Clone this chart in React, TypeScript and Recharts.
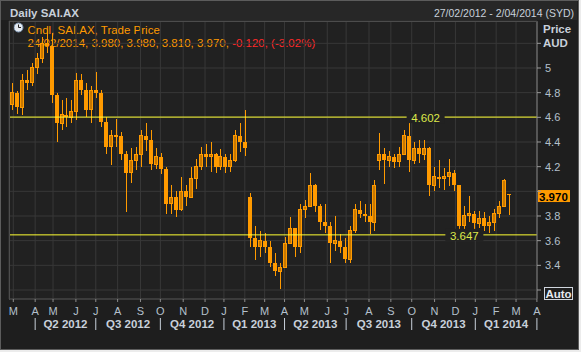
import React from 'react';
import { ComposedChart, Bar, XAxis, YAxis, CartesianGrid, ReferenceLine, ReferenceDot } from 'recharts';

const ORANGE = '#ff9a00';
const LINE_YELLOW = '#ffff33';
const LABEL_YELLOW = '#dde84a';
const PLOT_BG = '#212121';
const GRID = '#383838';
const AXIS_TEXT = '#b4c0cc';
const HEAD_TEXT = '#c8d0da';
const FONT = '"Liberation Sans", Arial, sans-serif';

// x axis is counted in trading days, 27/02/2012 = day 0
const monthStarts = [3, 25, 43, 66, 86, 108, 131, 151, 174, 196, 215, 236, 256, 276, 296, 319, 338, 361, 383, 404, 427, 448, 468, 489, 509, 530];
const monthLetters = ['M', 'A', 'M', 'J', 'J', 'A', 'S', 'O', 'N', 'D', 'J', 'F', 'M', 'A', 'M', 'J', 'J', 'A', 'S', 'O', 'N', 'D', 'J', 'F', 'M', 'A'];
const quarterStarts = [25, 86, 151, 215, 276, 338, 404, 468, 530];
const quarterNames = ['Q2 2012', 'Q3 2012', 'Q4 2012', 'Q1 2013', 'Q2 2013', 'Q3 2013', 'Q4 2013', 'Q1 2014'];
const priceTicks = [3.2, 3.4, 3.6, 3.8, 4, 4.2, 4.4, 4.6, 4.8, 5, 5.2];

// one candle per 5 trading days
const opens = [
  4.70, 4.80, 4.68, 4.90, 4.88, 5.00, 5.08, 5.20, 5.18, 4.78,
  4.55, 4.62, 4.60, 4.65, 4.90, 4.82, 4.66, 4.82, 4.80, 4.56,
  4.36, 4.45, 4.45, 4.30, 4.15, 4.25, 4.30, 4.45, 4.42, 4.22,
  4.28, 4.18, 3.90, 3.95, 3.85, 4.00, 3.95, 4.10, 4.20, 4.30,
  4.28, 4.30, 4.20, 4.28, 4.20, 4.25, 4.45, 4.40, 3.95, 3.62,
  3.55, 3.60, 3.55, 3.42, 3.35, 3.38, 3.58, 3.70, 3.55, 3.85,
  3.88, 4.05, 3.88, 3.75, 3.72, 3.58, 3.60, 3.55, 3.45, 3.68,
  3.85, 3.82, 3.80, 3.75, 4.25, 4.30, 4.25, 4.28, 4.24, 4.30,
  4.45, 4.25, 4.35, 4.30, 4.35, 4.05, 4.12, 4.10, 4.12, 4.15,
  4.05, 3.72, 3.80, 3.82, 3.74, 3.78, 3.72, 3.75, 3.82, 3.88,
  3.98,
];
const highs = [
  4.88, 4.81, 4.95, 4.98, 5.04, 5.12, 5.25, 5.31, 5.28, 4.80,
  4.74, 4.76, 4.74, 4.96, 4.95, 4.88, 4.85, 4.97, 4.82, 4.60,
  4.50, 4.59, 4.48, 4.33, 4.35, 4.36, 4.50, 4.55, 4.50, 4.35,
  4.31, 4.20, 4.05, 4.00, 4.12, 4.05, 4.20, 4.26, 4.36, 4.38,
  4.40, 4.31, 4.34, 4.30, 4.30, 4.50, 4.55, 4.66, 3.99, 3.72,
  3.68, 3.66, 3.60, 3.50, 3.42, 3.63, 3.79, 3.70, 3.90, 3.93,
  4.15, 4.06, 3.90, 3.90, 3.75, 3.80, 3.65, 3.62, 3.72, 3.90,
  3.92, 3.90, 3.90, 4.09, 4.47, 4.35, 4.33, 4.30, 4.36, 4.50,
  4.602, 4.40, 4.42, 4.42, 4.36, 4.20, 4.25, 4.19, 4.26, 4.17,
  4.05, 3.88, 3.96, 3.84, 3.84, 3.83, 3.80, 3.86, 3.92, 4.10,
  3.98,
];
const lows = [
  4.66, 4.63, 4.62, 4.82, 4.85, 4.95, 5.04, 5.12, 4.72, 4.40,
  4.50, 4.52, 4.55, 4.58, 4.78, 4.60, 4.55, 4.76, 4.52, 4.30,
  4.21, 4.36, 4.25, 3.83, 4.07, 4.17, 4.20, 4.33, 4.17, 4.18,
  4.14, 3.82, 3.82, 3.79, 3.84, 3.88, 3.95, 4.02, 4.17, 4.20,
  4.16, 4.15, 4.17, 4.15, 4.16, 4.24, 4.32, 4.29, 3.55, 3.44,
  3.47, 3.50, 3.39, 3.31, 3.21, 3.38, 3.58, 3.47, 3.50, 3.78,
  3.87, 3.83, 3.69, 3.66, 3.42, 3.52, 3.50, 3.42, 3.42, 3.66,
  3.78, 3.75, 3.65, 3.68, 4.17, 4.06, 4.20, 4.19, 4.20, 4.30,
  4.16, 4.22, 4.23, 4.25, 3.96, 4.00, 4.03, 4.01, 4.04, 4.00,
  3.647, 3.67, 3.75, 3.69, 3.70, 3.68, 3.66, 3.68, 3.78, 3.88,
  3.81,
];
const closes = [
  4.80, 4.68, 4.90, 4.88, 5.00, 5.08, 5.20, 5.18, 4.78, 4.55,
  4.62, 4.60, 4.65, 4.90, 4.82, 4.66, 4.82, 4.80, 4.56, 4.36,
  4.45, 4.45, 4.30, 4.15, 4.25, 4.30, 4.45, 4.42, 4.22, 4.28,
  4.18, 3.90, 3.95, 3.85, 4.00, 3.95, 4.10, 4.20, 4.30, 4.28,
  4.30, 4.20, 4.28, 4.20, 4.25, 4.45, 4.40, 4.35, 3.62, 3.55,
  3.60, 3.55, 3.42, 3.35, 3.38, 3.58, 3.70, 3.55, 3.85, 3.88,
  4.05, 3.88, 3.75, 3.72, 3.58, 3.60, 3.55, 3.45, 3.68, 3.85,
  3.82, 3.80, 3.75, 4.05, 4.30, 4.25, 4.28, 4.24, 4.30, 4.45,
  4.25, 4.35, 4.30, 4.35, 4.05, 4.12, 4.10, 4.12, 4.15, 4.05,
  3.72, 3.80, 3.82, 3.74, 3.78, 3.72, 3.75, 3.82, 3.88, 4.09,
  3.97,
];

const levels = [4.602, 3.647];
const levelLabelDay = [418, 457];
const lastDate = '24/02/2014';
const lastChange = '-0.120, (-3.02%)';

const candles = opens.map((open, k) => ({
  day: k * 5 + 2,
  open,
  high: highs[k],
  low: lows[k],
  close: closes[k],
}));
const last = candles[candles.length - 1];

const quarterMids = quarterNames.map((_, j) => (quarterStarts[j] + quarterStarts[j + 1]) / 2);
const quarterAxisTicks = [...quarterStarts, ...quarterMids];

const Candle = (props: any) => {
  const { x, y, width, height, payload } = props;
  if (x == null || y == null || !payload) return null;
  const top = Math.min(y, y + height);
  const h = Math.abs(height);
  const { open, high, low, close } = payload;
  const span = high - low || 1;
  const py = (v: number) => top + ((high - v) / span) * h;
  const left = Math.round(x);
  const w = Math.max(Math.round(width), 1);
  const cx = left + Math.floor(w / 2) + 0.5;
  const bTop = py(Math.max(open, close));
  const bBot = py(Math.min(open, close));
  const up = close >= open;
  return (
    <g shapeRendering="crispEdges">
      <line x1={cx} x2={cx} y1={top} y2={top + h} stroke={ORANGE} strokeWidth={1} />
      {up ? (
        <rect x={left + 0.5} y={bTop} width={w - 1} height={Math.max(bBot - bTop, 1)} fill="#c87800" stroke={ORANGE} strokeWidth={1} />
      ) : (
        <rect x={left} y={bTop} width={w} height={Math.max(bBot - bTop, 1)} fill={ORANGE} />
      )}
    </g>
  );
};

const MonthTick = ({ x, y, payload }: any) => (
  <text x={x} y={y + 10.5} textAnchor="middle" fill={AXIS_TEXT} fontSize={11} fontFamily={FONT}>
    {monthLetters[monthStarts.indexOf(payload.value)]}
  </text>
);

const QuarterTick = ({ x, y, payload }: any) => {
  const j = quarterMids.indexOf(payload.value);
  if (j < 0) {
    return <line x1={x} x2={x} y1={y + 2} y2={y + 14} stroke={HEAD_TEXT} strokeWidth={1} />;
  }
  return (
    <text x={x} y={y + 12} textAnchor="middle" fill={HEAD_TEXT} fontSize={11.5} fontWeight="bold" fontFamily={FONT}>
      {quarterNames[j]}
    </text>
  );
};

// labels under the "Price AUD" header, the price tag and the Auto button stay hidden
const PriceTick = ({ x, y, payload }: any) => {
  const v = payload.value;
  if (v < 3.3 || v > 5.1 || Math.abs(v - last.close) < 0.05) return <g />;
  return (
    <text x={x} y={y + 4} fill={AXIS_TEXT} fontSize={11} fontFamily={FONT}>
      {String(Number(v.toFixed(1)))}
    </text>
  );
};

const LevelTag = ({ cx, cy, text }: any) => (
  <g>
    <rect x={cx - 19} y={cy - 6} width={38} height={12} fill={PLOT_BG} />
    <text x={cx} y={cy + 5} textAnchor="middle" fill={LABEL_YELLOW} fontSize={11.5} fontFamily={FONT}>
      {text}
    </text>
  </g>
);

const PriceTag = ({ viewBox }: any) => {
  if (!viewBox) return null;
  const x = viewBox.x + viewBox.width;
  const y = viewBox.y;
  return (
    <g>
      <rect x={x + 1} y={y - 5} width={32} height={12} fill={ORANGE} />
      <text x={x + 2} y={y + 5.5} fill="#000" fontSize={11.5} fontWeight="bold" fontFamily={FONT}>
        {last.close.toFixed(3)}
      </text>
    </g>
  );
};

export default function App() {
  return (
    <div style={{ position: 'relative', width: 581, height: 352, background: '#ececec', fontFamily: FONT }}>
      <style>{'body{margin:0}'}</style>
      <div style={{ position: 'absolute', left: 0, top: 0, width: 577, height: 348, background: '#1e1e1e', border: '1px solid #5c5c5c' }} />
      <div style={{ position: 'absolute', left: 1, top: 1, width: 576, height: 19, background: '#272727' }} />
      <div style={{ position: 'absolute', left: 9, top: 21, width: 528, height: 278, background: PLOT_BG }} />

      <svg width={581} height={352} style={{ position: 'absolute', left: 0, top: 0 }}>
        <circle cx={18.5} cy={27.5} r={4.5} fill="#e4eaf2" stroke="#7d95b0" />
        <line x1={18.5} y1={27.5} x2={18.5} y2={24.5} stroke="#222" />
        <line x1={18.5} y1={27.5} x2={21} y2={27.5} stroke="#222" />
        <text x={27.5} y={34} fill={ORANGE} fontSize={11.5} fontFamily={FONT}>Cndl, SAI.AX, Trade Price</text>
        <text x={27.5} y={46.5} fill={ORANGE} fontSize={11.5} fontFamily={FONT}>
          {`${lastDate}, ${last.open.toFixed(3)}, ${last.high.toFixed(3)}, ${last.low.toFixed(3)}, ${last.close.toFixed(3)}, `}
          <tspan fill="#ff2a2a">{lastChange}</tspan>
        </text>
      </svg>

      <div style={{ position: 'absolute', left: 0, top: 0 }}>
        <ComposedChart width={581} height={352} data={candles} margin={{ top: 21, right: 0, bottom: 18, left: 9 }}>
          <CartesianGrid stroke={GRID} fill="none" />
          <XAxis
            dataKey="day"
            type="number"
            domain={[-1.33, 530.1]}
            allowDataOverflow
            ticks={monthStarts}
            interval={0}
            height={17}
            tickSize={3}
            tickMargin={2}
            tick={<MonthTick />}
            tickLine={{ stroke: '#8a8a8a' }}
            axisLine={{ stroke: '#4c4c4c' }}
          />
          <XAxis
            xAxisId="q"
            dataKey="day"
            type="number"
            domain={[-1.33, 530.1]}
            allowDataOverflow
            ticks={quarterAxisTicks}
            interval={0}
            height={18}
            tickSize={0}
            tickMargin={0}
            tick={<QuarterTick />}
            tickLine={false}
            axisLine={false}
          />
          <YAxis
            orientation="right"
            width={44}
            type="number"
            domain={[3.127, 5.381]}
            allowDataOverflow
            ticks={priceTicks}
            interval={0}
            tickSize={4}
            tickMargin={4}
            tick={<PriceTick />}
            tickLine={{ stroke: '#9a9a9a' }}
            axisLine={{ stroke: '#7a7a7a' }}
          />
          {levels.map((v) => (
            <ReferenceLine key={v} y={v} stroke={LINE_YELLOW} strokeWidth={1} />
          ))}
          <ReferenceLine y={last.close} stroke="none" label={<PriceTag />} />
          <Bar
            dataKey={(d: any) => [d.low, d.high]}
            barSize={5}
            shape={(p: any) => <Candle {...p} />}
            isAnimationActive={false}
          />
          {levels.map((v, j) => (
            <ReferenceDot
              key={`t${v}`}
              x={levelLabelDay[j]}
              y={v}
              r={0}
              shape={(p: any) => <LevelTag {...p} text={v.toFixed(3)} />}
            />
          ))}
        </ComposedChart>
      </div>

      <div style={{ position: 'absolute', left: 9, top: 21, width: 529, height: 279, boxSizing: 'border-box', borderTop: '1px solid #4c4c4c', borderLeft: '1px solid #4c4c4c', pointerEvents: 'none' }} />

      <svg width={581} height={352} style={{ position: 'absolute', left: 0, top: 0, pointerEvents: 'none' }}>
        <text x={10} y={16.5} fill={HEAD_TEXT} fontSize={11.5} fontWeight="bold" fontFamily={FONT}>Daily SAI.AX</text>
        <text x={574} y={16.5} textAnchor="end" fill={HEAD_TEXT} fontSize={10.5} fontFamily={FONT}>27/02/2012 - 2/04/2014 (SYD)</text>
        <text x={543} y={32.5} fill={HEAD_TEXT} fontSize={11.5} fontWeight="bold" fontFamily={FONT}>Price</text>
        <text x={543} y={46.5} fill={HEAD_TEXT} fontSize={11.5} fontWeight="bold" fontFamily={FONT}>AUD</text>
        <rect x={544.5} y={287.5} width={28} height={12} fill="#1e1e1e" stroke="#d0d6de" strokeWidth={1} />
        <text x={558.5} y={297.5} textAnchor="middle" fill="#e6eaf0" fontSize={11.5} fontWeight="bold" fontFamily={FONT}>Auto</text>
      </svg>
    </div>
  );
}
